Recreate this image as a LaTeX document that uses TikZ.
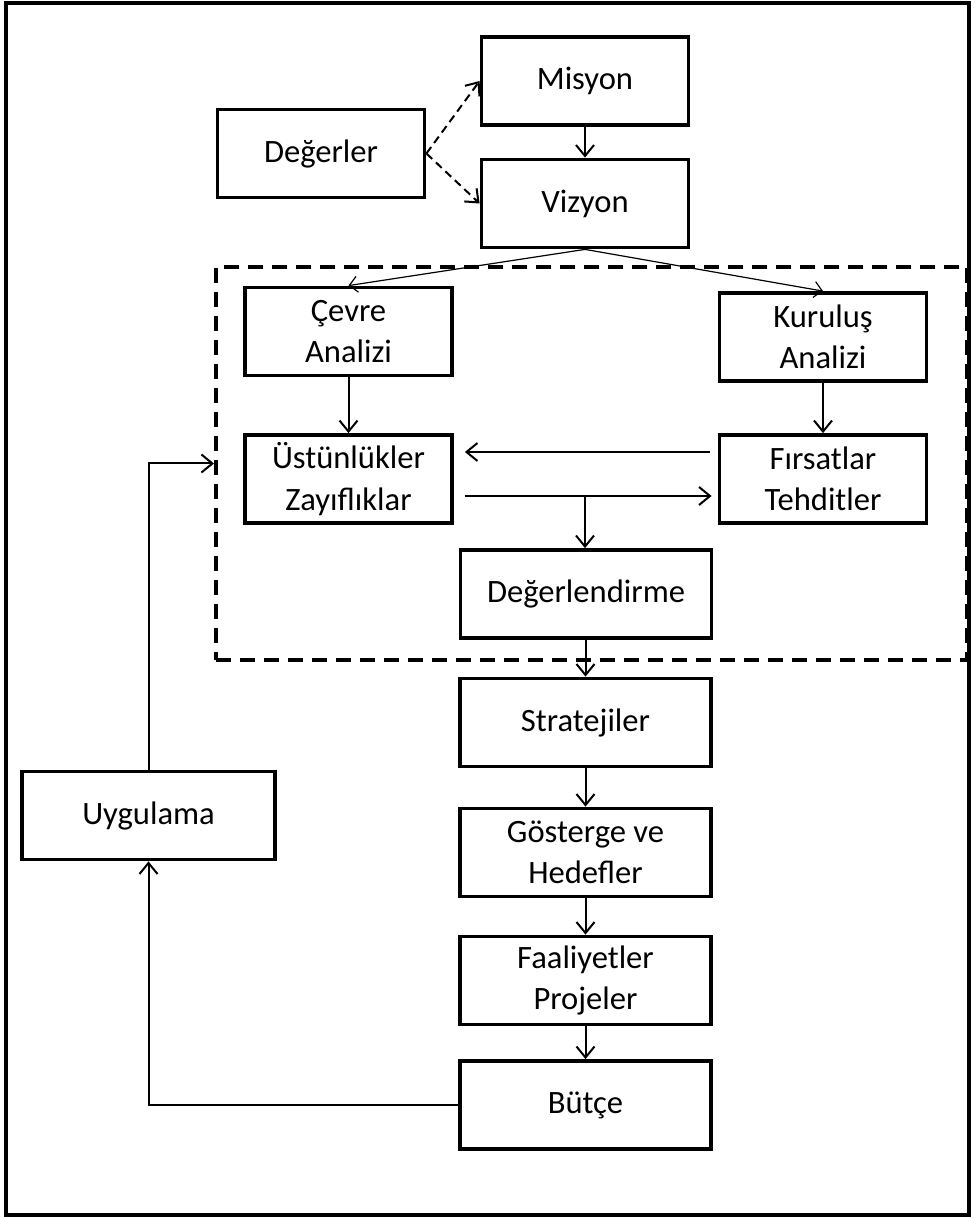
\documentclass[tikz,border=0pt]{standalone}
\usepackage{fontspec}
\setmainfont{Carlito}
\usetikzlibrary{arrows.meta}

\begin{document}
\begin{tikzpicture}[x=0.5pt,y=-0.5pt,
    box/.style={draw, line width=1.9pt, minimum width=#1, minimum height=44pt, inner sep=2pt, align=center, font=\fontsize{16.3}{20.8}\selectfont},
    box/.default=103.5pt,
    conn/.style={line width=1pt, -{Straight Barb[length=5.5pt,width=9pt]}},
    dconn/.style={conn, dash pattern=on 4pt off 2.5pt},
    thinconn/.style={line width=0.6pt, -{Straight Barb[length=4pt,width=8pt]}}]
    \useasboundingbox (0,0) rectangle (974,1218);
    %Outer frame
    \draw [line width=1.6pt] (6,3) rectangle (969,1215);
    %Dashed region
    \node [draw, line width=2pt, dash pattern=on 7.5pt off 4.5pt, minimum width=375.5pt, minimum height=196.5pt] (swot) at (591.5,463.5) {};

    % Text Node
    \node [box] (misyon) at (585,81) {Misyon};
    % Text Node
    \node [box] (vizyon) at (585,203.5) {Vizyon};
    % Text Node
    \node [box] (degerler) at (321,153.5) {Değerler};
    % Text Node
    \node [box] (cevre) at (348.5,331.5) {Çevre\\Analizi};
    % Text Node
    \node [box] (kurulus) at (823,337) {Kuruluş\\Analizi};
    % Text Node
    \node [box] (ustun) at (348.5,479) {Üstünlükler\\Zayıflıklar};
    % Text Node
    \node [box] (firsat) at (823,479) {Fırsatlar\\Tehditler};
    % Text Node
    \node [box=125.5pt] (degerlendirme) at (586,594) {Değerlendirme};
    % Text Node
    \node [box=125.5pt] (strateji) at (585.5,722.5) {Stratejiler};
    % Text Node
    \node [box=125.5pt] (gosterge) at (585.5,852.5) {Gösterge ve\\Hedefler};
    % Text Node
    \node [box=125.5pt] (faaliyet) at (585.5,980.5) {Faaliyetler\\Projeler};
    % Text Node
    \node [box=125.5pt] (butce) at (585.5,1105) {Bütçe};
    % Text Node
    \node [box=126.5pt] (uygulama) at (148.5,815.5) {Uygulama};

    \coordinate (split) at (585,496);

    %Connectors
    \draw [dconn] (degerler.east) -- (misyon.west);
    \draw [dconn] (degerler.east) -- (vizyon.west);
    \draw [conn] (misyon) -- (vizyon);
    \draw [thinconn] (vizyon.south) -- (cevre.north);
    \draw [thinconn] (vizyon.south) -- (kurulus.north);
    \draw [conn] (cevre) -- (ustun);
    \draw [conn] (kurulus) -- (firsat);
    \draw [conn, shorten <=4pt, shorten >=5.5pt] ([yshift=13.5pt]firsat.west) -- ([yshift=13.5pt]ustun.east);
    \draw [conn, shorten <=5.5pt, shorten >=3pt] ([yshift=-8.5pt]ustun.east) -- ([yshift=-8.5pt]firsat.west);
    \draw [conn] (split) -- (split |- degerlendirme.north);
    \draw [conn] (degerlendirme.south -| strateji) -- (strateji);
    \draw [conn] (strateji) -- (gosterge);
    \draw [conn] (gosterge) -- (faaliyet);
    \draw [conn] (faaliyet) -- (butce);
    \draw [conn] (butce.west) -| (uygulama.south);
    \draw [conn] (uygulama.north) |- (swot.west);
\end{tikzpicture}
\end{document}
